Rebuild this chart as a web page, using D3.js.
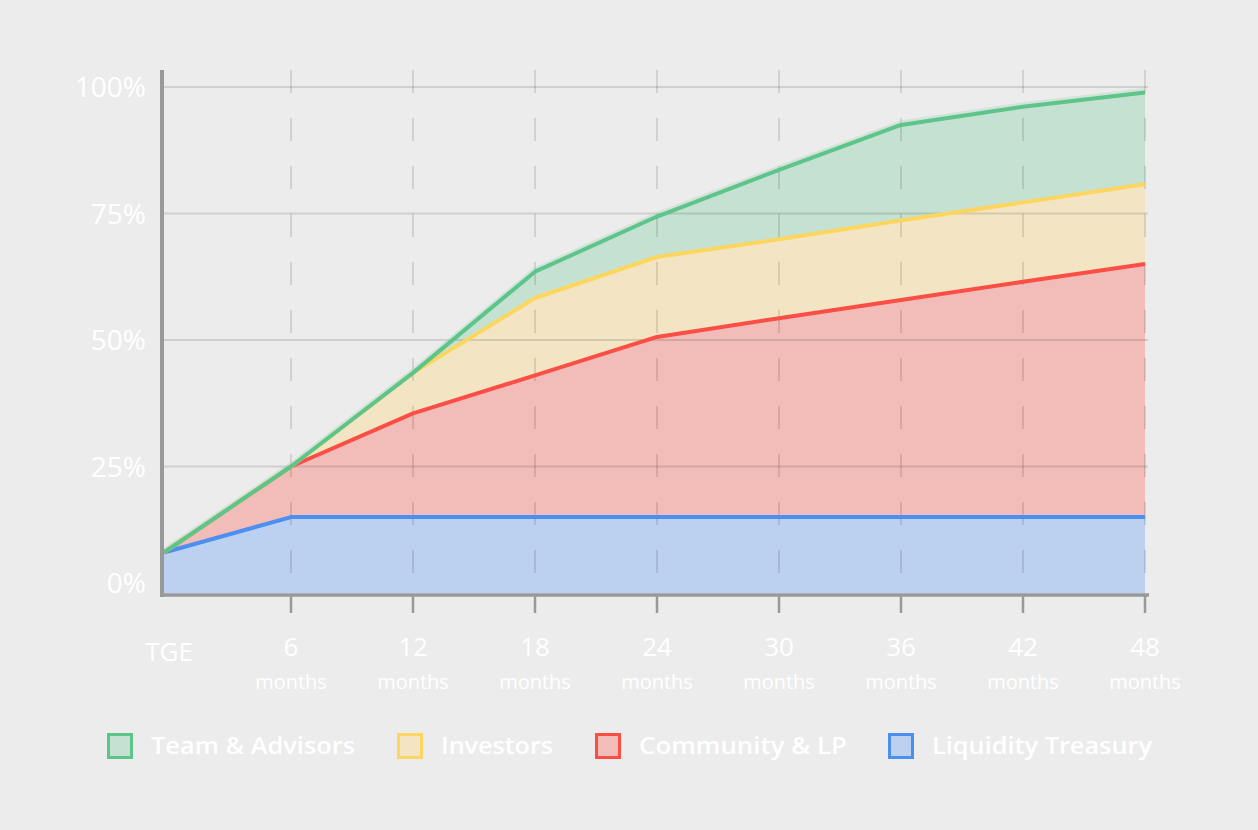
<!DOCTYPE html>
<html>
<head>
<meta charset="utf-8">
<script src="https://cdn.jsdelivr.net/npm/d3@7/dist/d3.min.js"></script>
<style>
  html, body { margin: 0; padding: 0; background: #ececec; }
  svg { display: block; }
  text { font-family: "Open Sans", "Lato", sans-serif; fill: #ffffff; }
</style>
</head>
<body>
<svg id="chart" width="1258" height="830"></svg>
<script>
// ---------- data ----------
const months = [0, 6, 12, 18, 24, 30, 36, 42, 48];
const xTickLabels = ["TGE", "6", "12", "18", "24", "30", "36", "42", "48"];
const xTickSubLabels = ["", "months", "months", "months", "months", "months", "months", "months", "months"];
const yTickValues = [0, 25, 50, 75, 100];
const seriesKeys = ["Liquidity Treasury", "Community & LP", "Investors", "Team & Advisors"];
// unlocked share per allocation (stacked, % of total supply)
const liquidityTreasury = [8, 15, 15, 15, 15, 15, 15, 15, 15];
const communityLP       = [0, 10, 20.5, 28, 35.6, 39.3, 42.9, 46.5, 50];
const investors         = [0, 0, 8, 15.3, 15.8, 15.6, 15.7, 15.7, 15.8];
const teamAdvisors      = [0, 0, 0, 5.2, 8, 13.7, 18.9, 18.9, 18.1];
const legendOrder = ["Team & Advisors", "Investors", "Community & LP", "Liquidity Treasury"];

// ---------- style ----------
const lineColor = {
  "Liquidity Treasury": "#4b8ff3",
  "Community & LP": "#fb4e45",
  "Investors": "#fcd65e",
  "Team & Advisors": "#5dc48a"
};
const fillColor = {
  "Liquidity Treasury": "#bbd1ef",
  "Community & LP": "#f2bcb9",
  "Investors": "#f3e5c4",
  "Team & Advisors": "#c5e1d2"
};

const svg = d3.select("#chart");

const rows = months.map((m, i) => ({
  month: m,
  "Liquidity Treasury": liquidityTreasury[i],
  "Community & LP": communityLP[i],
  "Investors": investors[i],
  "Team & Advisors": teamAdvisors[i]
}));
const stacked = d3.stack().keys(seriesKeys)(rows);

const x = d3.scaleLinear().domain([0, 6, 48]).range([164, 291, 1145]);
const y = d3.scaleLinear().domain([0, 100]).range([593, 87]);

// areas
const area = d3.area()
  .x(d => x(d.data.month))
  .y0(d => y(d[0]))
  .y1(d => y(d[1]));
svg.append("g").selectAll("path").data(stacked).join("path")
  .attr("d", area)
  .attr("fill", d => fillColor[d.key]);

// horizontal grid
svg.append("g").selectAll("line").data(yTickValues.filter(v => v > 0)).join("line")
  .attr("x1", 164).attr("x2", 1148)
  .attr("y1", d => y(d)).attr("y2", d => y(d))
  .attr("stroke", "rgba(0,0,0,0.12)").attr("stroke-width", 2);

// vertical dashed grid
svg.append("g").selectAll("line").data(months.filter(m => m > 0)).join("line")
  .attr("x1", d => x(d)).attr("x2", d => x(d))
  .attr("y1", 70).attr("y2", 593)
  .attr("stroke", "rgba(0,0,0,0.11)").attr("stroke-width", 2)
  .attr("stroke-dasharray", "23,25");

// soft halo above the top line
const line = d3.line()
  .x(d => x(d.data.month))
  .y(d => y(d[1]));
svg.append("path")
  .attr("d", line(stacked[stacked.length - 1]))
  .attr("fill", "none")
  .attr("stroke", lineColor["Team & Advisors"])
  .attr("stroke-opacity", 0.18)
  .attr("stroke-width", 4)
  .attr("transform", "translate(0,-2.5)");

// lines
svg.append("g").selectAll("path").data(stacked).join("path")
  .attr("d", line)
  .attr("fill", "none")
  .attr("stroke", d => lineColor[d.key])
  .attr("stroke-width", 4)
  .attr("stroke-linejoin", "round");

// axes
const axisColor = "#999999";
svg.append("line").attr("x1", 162).attr("x2", 162).attr("y1", 70).attr("y2", 597)
  .attr("stroke", axisColor).attr("stroke-width", 4);
svg.append("line").attr("x1", 160).attr("x2", 1149).attr("y1", 595).attr("y2", 595)
  .attr("stroke", axisColor).attr("stroke-width", 3.5);
svg.append("g").selectAll("line").data(months.filter(m => m > 0)).join("line")
  .attr("x1", d => x(d)).attr("x2", d => x(d))
  .attr("y1", 595).attr("y2", 613)
  .attr("stroke", axisColor).attr("stroke-width", 2.5);

// y labels
svg.append("g").selectAll("text").data(yTickValues).join("text")
  .attr("x", 146)
  .attr("y", d => d === 0 ? y(d) - 10 : y(d))
  .attr("dy", "0.36em")
  .attr("text-anchor", "end")
  .attr("font-size", 28)
  .text(d => d + "%");

// x labels
const xl = svg.append("g");
xl.selectAll("text.main").data(months).join("text")
  .attr("class", "main")
  .attr("x", (d, i) => i === 0 ? 169 : x(d))
  .attr("y", (d, i) => i === 0 ? 652 : 647)
  .attr("dy", "0.36em")
  .attr("text-anchor", "middle")
  .attr("font-size", 26)
  .text((d, i) => xTickLabels[i]);
xl.selectAll("text.sub").data(months.filter((d, i) => xTickSubLabels[i])).join("text")
  .attr("class", "sub")
  .attr("x", d => x(d))
  .attr("y", 682)
  .attr("dy", "0.36em")
  .attr("text-anchor", "middle")
  .attr("font-size", 20)
  .text(d => xTickSubLabels[months.indexOf(d)]);

// legend
const legendX = [107, 397, 595, 888];
const legendTextW = [204, 112, 208, 220];
const lg = svg.append("g").selectAll("g").data(legendOrder).join("g")
  .attr("transform", (d, i) => `translate(${legendX[i]},746)`);
lg.append("rect")
  .attr("x", 1.5).attr("y", -11.5).attr("width", 23).attr("height", 23)
  .attr("fill", d => fillColor[d])
  .attr("stroke", d => lineColor[d]).attr("stroke-width", 3);
lg.append("text")
  .attr("x", 44).attr("y", 0).attr("dy", "0.36em")
  .attr("font-size", 23).attr("font-weight", 600)
  .attr("textLength", (d, i) => legendTextW[i])
  .attr("lengthAdjust", "spacingAndGlyphs")
  .text(d => d);
</script>
</body>
</html>
